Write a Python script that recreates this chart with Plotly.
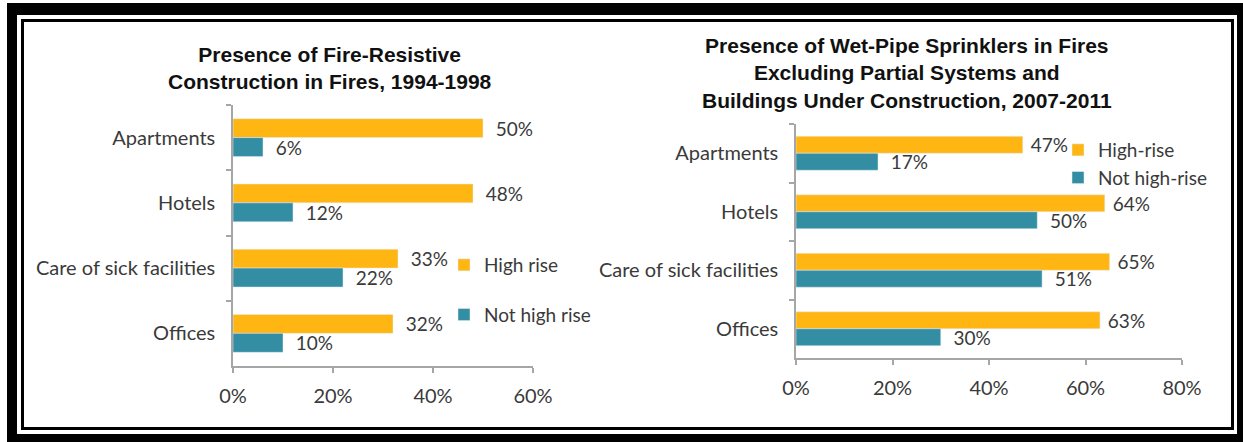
import plotly.graph_objects as go

W, H = 1243, 442

# ---------------- data ----------------
categories = ["Apartments", "Hotels", "Care of sick facilities", "Offices"]

left_title = "Presence of Fire-Resistive<br>Construction in Fires, 1994-1998"
left_high = [50, 48, 33, 32]
left_not_high = [6, 12, 22, 10]
left_names = ["High rise", "Not high rise"]
left_ticks = [0, 20, 40, 60]

right_title = ("Presence of Wet-Pipe Sprinklers in Fires<br>Excluding Partial Systems and"
               "<br>Buildings Under Construction, 2007-2011")
right_high = [47, 64, 65, 63]
right_not_high = [17, 50, 51, 30]
right_names = ["High-rise", "Not high-rise"]
right_ticks = [0, 20, 40, 60, 80]

# ---------------- style ----------------
ORANGE = "#FFB612"
TEAL = "#338DA3"
AXIS = "#A6A6A6"
TXT = "#3A3A3A"
FONT = "Lato"


def px_x(p):
    return p / W


def px_y(p):
    return 1 - p / H


def pct(vals):
    return [f"{v}%" for v in vals]


fig = go.Figure()

label_font = dict(size=19, color=TXT, family=FONT)


def add_bar(vals, name, color, xa, ya, leg, grp, pad):
    fig.add_trace(go.Bar(y=categories, x=vals, orientation="h", name=name,
                         marker_color=color, xaxis=xa, yaxis=ya, legend=leg,
                         legendgroup=grp, text=pct(vals),
                         texttemplate=pad + "%{text}", textposition="outside",
                         constraintext="none",
                         cliponaxis=False, textfont=label_font, hoverinfo="x+y"))


add_bar(left_high, left_names[0], ORANGE, "x", "y", "legend", "lh", "\u00a0\u00a0")
add_bar(left_not_high, left_names[1], TEAL, "x", "y", "legend", "ln", "\u00a0\u00a0")
add_bar(right_high, right_names[0], ORANGE, "x2", "y2", "legend2", "rh", "\u00a0")
add_bar(right_not_high, right_names[1], TEAL, "x2", "y2", "legend2", "rn", "\u00a0\u00a0")

xaxis_common = dict(showline=True, linecolor=AXIS, linewidth=1.5, ticks="outside",
                    ticklen=5, tickcolor=AXIS, tickwidth=1.5, showgrid=False,
                    zeroline=False, ticklabelstandoff=6, automargin=False,
                    tickfont=dict(size=20, color=TXT, family=FONT), fixedrange=True)
yaxis_common = dict(showline=True, linecolor=AXIS, linewidth=1.5, ticks="outside",
                    ticklen=5, tickcolor=AXIS, tickwidth=1.5, tickson="boundaries",
                    showgrid=False, autorange="reversed", type="category",
                    categoryorder="array", categoryarray=categories,
                    ticklabelstandoff=12, automargin=False,
                    tickfont=dict(size=20, color=TXT, family=FONT), fixedrange=True)

fig.update_layout(
    width=W, height=H,
    margin=dict(l=0, r=0, t=0, b=0, autoexpand=False),
    paper_bgcolor="white", plot_bgcolor="white",
    barmode="group",
    font=dict(family=FONT, color=TXT),
    xaxis=dict(domain=[px_x(233), px_x(533)], range=[0, 60], tickvals=left_ticks,
               ticktext=pct(left_ticks), anchor="y", **xaxis_common),
    yaxis=dict(domain=[px_y(366), px_y(105)], anchor="x", **yaxis_common),
    xaxis2=dict(domain=[px_x(796), px_x(1182)], range=[0, 80], tickvals=right_ticks,
                ticktext=pct(right_ticks), anchor="y2", **xaxis_common),
    yaxis2=dict(domain=[px_y(358), px_y(124)], anchor="x2", **yaxis_common),
    legend=dict(x=px_x(444), y=px_y(246), xanchor="left", yanchor="top",
                traceorder="grouped", tracegroupgap=22, bgcolor="rgba(0,0,0,0)",
                font=dict(size=19, color=TXT, family=FONT), itemwidth=30),
    legend2=dict(x=px_x(1058), y=px_y(131), xanchor="left", yanchor="top",
                 traceorder="grouped", tracegroupgap=0, bgcolor="rgba(0,0,0,0)",
                 font=dict(size=19, color=TXT, family=FONT), itemwidth=30),
    showlegend=True,
)
fig.update_layout(bargap=0.42)

# titles
title_font = dict(family="Liberation Sans", size=21, color="#111111")
fig.add_annotation(text="<b>" + left_title + "</b>", xref="paper", yref="paper",
                   x=px_x(330), y=px_y(68), xanchor="center", yanchor="middle",
                   showarrow=False, align="center", font=title_font)
fig.add_annotation(text="<b>" + right_title + "</b>", xref="paper", yref="paper",
                   x=px_x(907), y=px_y(73), xanchor="center", yanchor="middle",
                   showarrow=False, align="center", font=title_font)

# frame: thick outer border pieces and a thin inner line
frame = [
    (7, 3, 17, 442),      # left
    (7, 3, 1243, 15),     # top
    (1237, 3, 1243, 442), # right
    (7, 434, 1243, 442),  # bottom
]
for x0, y0, x1, y1 in frame:
    fig.add_shape(type="rect", xref="paper", yref="paper",
                  x0=px_x(x0), x1=px_x(x1), y0=px_y(y1), y1=px_y(y0),
                  fillcolor="black", line=dict(width=0), layer="above")
fig.add_shape(type="rect", xref="paper", yref="paper",
              x0=px_x(22.5), x1=px_x(1232.5), y0=px_y(428.5), y1=px_y(20.5),
              line=dict(color="black", width=3), fillcolor="rgba(0,0,0,0)")

fig.write_html("out.html", config={"displayModeBar": False},
               post_script="document.body.style.margin='0';"
                           "document.body.style.overflow='hidden';")
